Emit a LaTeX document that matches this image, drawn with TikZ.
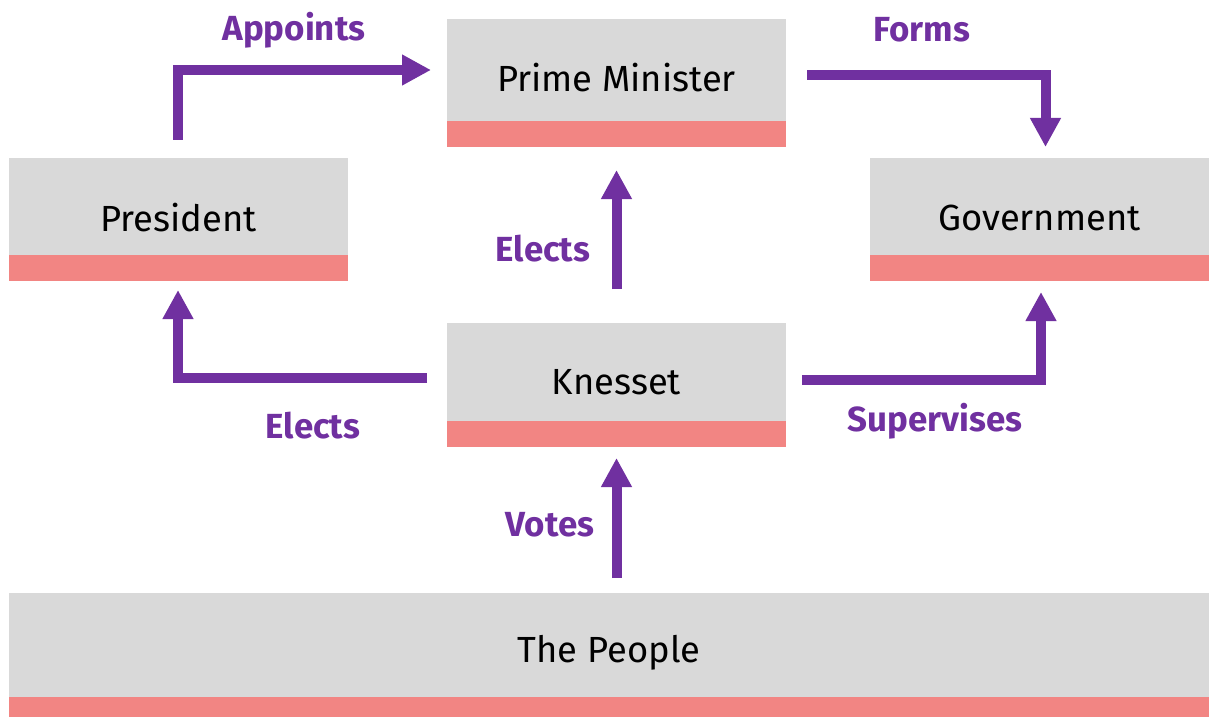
\documentclass[tikz,border=0pt]{standalone}
\usepackage{fontspec}
\setmainfont{Fira Sans}
\usetikzlibrary{arrows.meta,calc}
\definecolor{boxgray}{HTML}{D9D9D9}
\definecolor{boxred}{HTML}{F28583}
\definecolor{arrpurple}{HTML}{7030A0}
\tikzset{
  box/.style={fill=boxgray, inner sep=0pt, outer sep=0pt, minimum width=339bp,
    path picture={\fill[boxred] (path picture bounding box.south west) rectangle ([yshift=#1]path picture bounding box.south east);}},
  box/.default=26bp,
  boxtext/.style={font=\fontsize{36.5}{40}\selectfont, text=black, inner sep=0pt},
  lbl/.style={font=\bfseries\fontsize{35}{40}\selectfont, text=arrpurple, inner sep=0pt},
  flow/.style={draw=arrpurple, line width=10bp, line join=miter,
    -{Triangle[length=29bp,width=29bp]}},
}
\begin{document}
\begin{tikzpicture}[x=1bp,y=-1bp]
\useasboundingbox[fill=white] (0,0) rectangle (1209,717);
% boxes
\node[box, minimum height=128bp] (pm) at (616.5,83) {};
\node[box, minimum height=123bp] (pres) at (178.5,219.5) {};
\node[box, minimum height=123bp] (gov) at (1039.5,219.5) {};
\node[box, minimum height=124bp] (kn) at (616.5,385) {};
\node[box=20bp, minimum height=124bp, minimum width=1200bp] (ppl) at (609,655) {};
% box texts
\node[boxtext] (pmt) at (616.5,78) {Prime Minister};
\node[boxtext] (prest) at (178.5,218) {President};
\node[boxtext] (govt) at (1039.5,218) {Government};
\node[boxtext] (knt) at (616.5,382) {Knesset};
\node[boxtext] (pplt) at (609,653) {The People};
% connector end points
\coordinate (a1) at ($(pres.north)+(-0.5,-18)$);
\coordinate (a2) at ($(pm.west)+(-16,-13)$);
\coordinate (f1) at ($(pm.east)+(21,-8)$);
\coordinate (f2) at ($(gov.north)+(6,-11)$);
\coordinate (e1) at ($(kn.north)+(0,-34)$);
\coordinate (e2) at ($(pm.south)+(0,23)$);
\coordinate (l1) at ($(kn.west)+(-20,-7)$);
\coordinate (l2) at ($(pres.south)+(-0.5,9)$);
\coordinate (s1) at ($(kn.east)+(16,-5)$);
\coordinate (s2) at ($(gov.south)+(1.5,11)$);
\coordinate (v1) at ($(ppl.north)+(7.5,-15)$);
\coordinate (v2) at ($(kn.south)+(0,11)$);
% connectors
\draw[flow] (a1) |- (a2);
\draw[flow] (f1) -| (f2);
\draw[flow] (e1) -- (e2);
\draw[flow] (l1) -| (l2);
\draw[flow] (s1) -| (s2);
\draw[flow] (v1) -- (v2);
% labels
\node[lbl] (lapp) at (294,30) {Appoints};
\node[lbl] (lform) at (922,30) {Forms};
\node[lbl] (lel1) at (543,249) {Elects};
\node[lbl] (lel2) at (313,426) {Elects};
\node[lbl] (lsup) at (935,421) {Supervises};
\node[lbl] (lvot) at (550,525) {Votes};
\end{tikzpicture}
\end{document}
